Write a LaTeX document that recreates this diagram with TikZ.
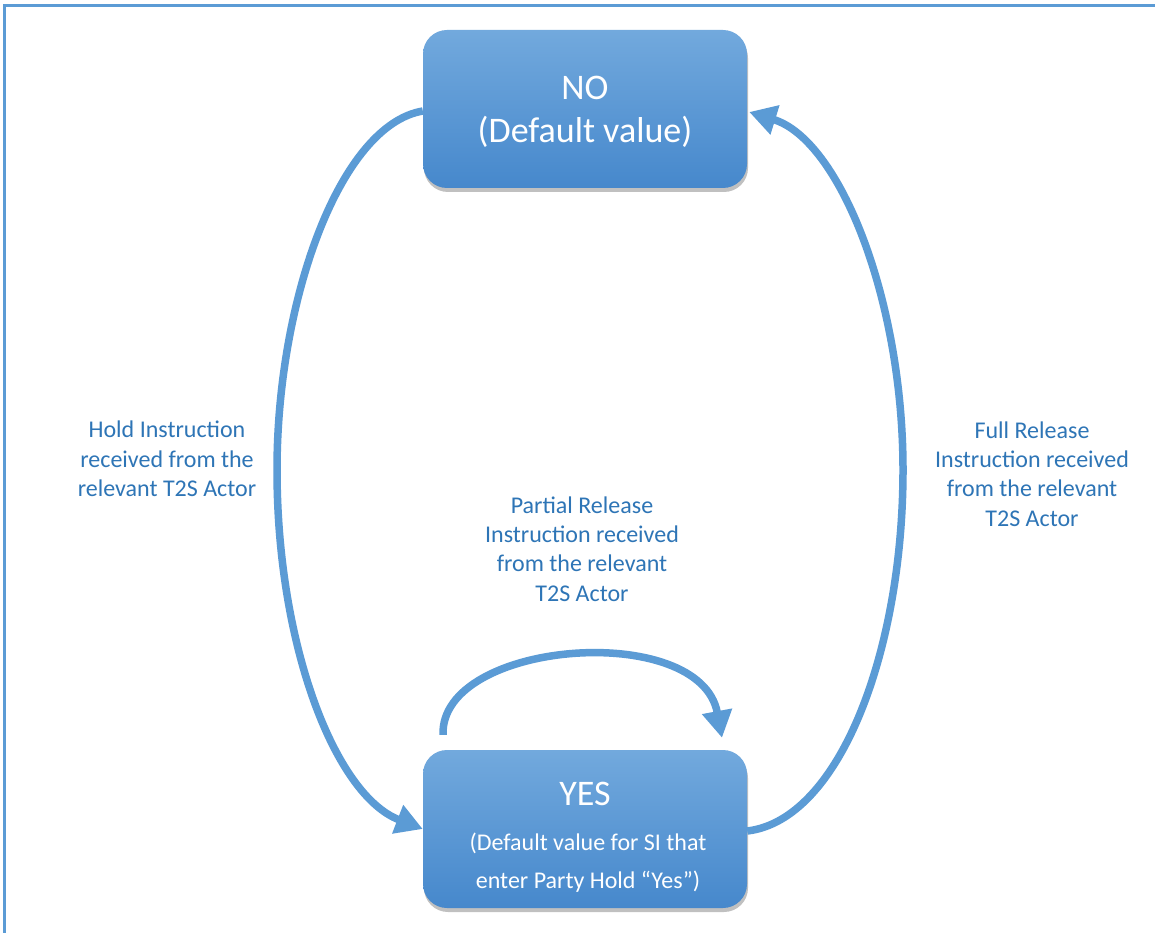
\documentclass[tikz,border=0pt]{standalone}
\usepackage{fontspec}
\setmainfont{Carlito}
\usetikzlibrary{arrows.meta,shadows}
\definecolor{arrowblue}{RGB}{91,155,213}
\definecolor{labelblue}{RGB}{46,117,182}
\definecolor{boxtop}{RGB}{114,169,221}
\definecolor{boxbot}{RGB}{70,136,204}
\tikzset{
  statebox/.style={rectangle, rounded corners=24pt, top color=boxtop, bottom color=boxbot,
    draw=none, minimum width=324pt, minimum height=158pt, inner sep=0pt,
    drop shadow={shadow xshift=1pt, shadow yshift=-4pt, opacity=0.35, fill=black!70}},
  boxtext/.style={text=white, anchor=base, inner sep=0pt},
  lbl/.style={text=labelblue, align=center, font=\fontsize{24}{29.3}\selectfont, inner sep=0pt},
  arr/.style={draw=arrowblue, line width=7.5pt, -{Triangle[length=27pt,width=29pt]}},
  frameline/.style={draw=arrowblue, line width=2.5pt}
}
\begin{document}
\begin{tikzpicture}[x=1pt,y=-1pt]
\useasboundingbox (0,0) rectangle (1155,933);
\fill[white] (0,0) rectangle (1155,933);
% frame
\coordinate (fa) at (4.5,933);
\coordinate (fb) at (4.5,5.5);
\coordinate (fc) at (1155,5.5);
\draw[frameline] (fa) -- (fb) -- (fc);
% boxes
\node[statebox] (no) at (585,109) {};
\node[statebox] (yes) at (585,829) {};
\node[boxtext, font=\fontsize{36}{43}\selectfont] (noT1) at (585,100) {NO};
\node[boxtext, font=\fontsize{36}{43}\selectfont] (noT2) at (585,143) {(Default value)};
\node[boxtext, font=\fontsize{36}{43}\selectfont] (yesT1) at (585,805) {YES};
\node[boxtext, font=\fontsize{24}{32}\selectfont] (yesT2) at (588,850) {(Default value for SI that};
\node[boxtext, font=\fontsize{24}{32}\selectfont] (yesT3) at (588,888) {enter Party Hold “Yes”)};
% labels
\node[lbl] (hold) at (167,459) {Hold Instruction\\received from the\\relevant T2S Actor};
\node[lbl] (part) at (582,549) {Partial Release\\Instruction received\\from the relevant\\T2S Actor};
\node[lbl] (full) at (1032,474) {Full Release\\Instruction received\\from the relevant\\T2S Actor};
% connectors
\coordinate (ms) at ([xshift=-142pt,yshift=15pt]yes.north);
\coordinate (me) at ([xshift=137pt,yshift=12pt]yes.north);
\draw[arr] ([yshift=-2pt]no.west) .. controls (340,125) and (277,300) .. (277,470)
  .. controls (277,645) and (335,795) .. (yes.west);
\draw[arr] ([yshift=-2pt]yes.east) .. controls (840,820) and (903,650) .. (903,470)
  .. controls (903,300) and (840,140) .. ([xshift=2pt,yshift=-3pt]no.east);
\draw[arr] (ms) .. controls (440,640) and (700,620) .. (me);
\end{tikzpicture}
\end{document}
